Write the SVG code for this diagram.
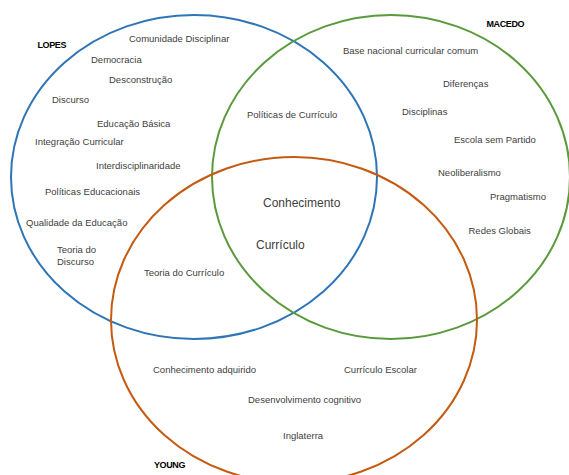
<svg xmlns="http://www.w3.org/2000/svg" width="569" height="475" viewBox="0 0 569 475">
<style>
.c{fill:none;stroke-width:2}
.t{font-family:"Liberation Sans",Arial,sans-serif;font-size:9.5px;fill:#404040}
.b{font-family:"Liberation Sans",Arial,sans-serif;font-size:9px;font-weight:bold;fill:#000;letter-spacing:-0.4px}
.m{font-family:"Liberation Sans",Arial,sans-serif;font-size:12px;fill:#404040}
</style>
<rect width="569" height="475" fill="#fff"/>
<g id="lopes">
<ellipse class="c" cx="194" cy="177" rx="183" ry="162" stroke="#2E75B6"/>
<text class="b" x="37.5" y="48">LOPES</text>
<text class="t" x="129" y="42">Comunidade Disciplinar</text>
<text class="t" x="91" y="63">Democracia</text>
<text class="t" x="109" y="83">Desconstrução</text>
<text class="t" x="52" y="103">Discurso</text>
<text class="t" x="97" y="127">Educação Básica</text>
<text class="t" x="35" y="145">Integração Curricular</text>
<text class="t" x="96" y="169">Interdisciplinaridade</text>
<text class="t" x="45" y="195">Políticas Educacionais</text>
<text class="t" x="26" y="226">Qualidade da Educação</text>
<text class="t" x="57" y="253">Teoria do</text>
<text class="t" x="57" y="265">Discurso</text>
</g>
<g id="macedo">
<ellipse class="c" cx="391" cy="177" rx="179" ry="162" stroke="#5B9A3C"/>
<text class="b" x="486.5" y="27">MACEDO</text>
<text class="t" x="343" y="54">Base nacional curricular comum</text>
<text class="t" x="443" y="87">Diferenças</text>
<text class="t" x="402" y="115">Disciplinas</text>
<text class="t" x="454" y="142.5">Escola sem Partido</text>
<text class="t" x="438" y="176">Neoliberalismo</text>
<text class="t" x="490" y="200">Pragmatismo</text>
<text class="t" x="468.5" y="234">Redes Globais</text>
</g>
<g id="young">
<ellipse class="c" cx="294" cy="320" rx="183" ry="163" stroke="#C55A11"/>
<text class="b" x="154" y="468">YOUNG</text>
<text class="t" x="153" y="373">Conhecimento adquirido</text>
<text class="t" x="344" y="373">Currículo Escolar</text>
<text class="t" x="248" y="403">Desenvolvimento cognitivo</text>
<text class="t" x="283" y="438.5">Inglaterra</text>
</g>
<g id="overlaps">
<text class="t" x="247" y="118">Políticas de Currículo</text>
<text class="t" x="144" y="276">Teoria do Currículo</text>
<text class="m" x="263" y="207">Conhecimento</text>
<text class="m" x="256" y="249">Currículo</text>
</g>
</svg>
